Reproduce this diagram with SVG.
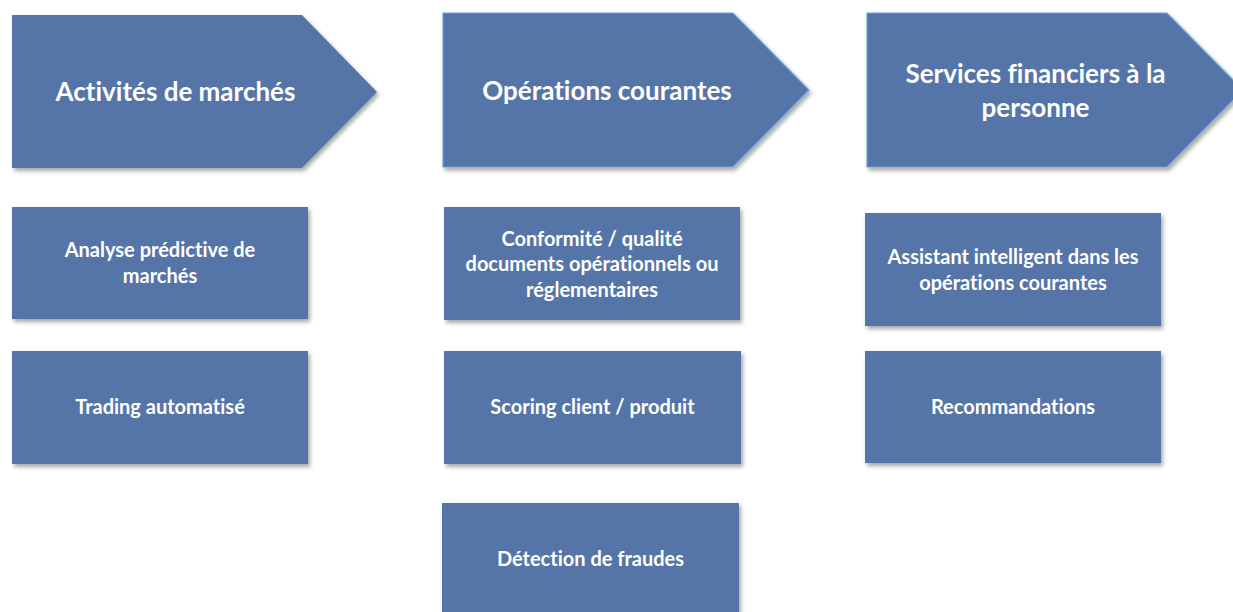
<svg xmlns="http://www.w3.org/2000/svg" width="1233" height="612" viewBox="0 0 1233 612">
<defs>
<filter id="sh" x="-10%" y="-10%" width="125%" height="130%">
<feDropShadow dx="2" dy="3" stdDeviation="2" flood-color="#000" flood-opacity="0.35"/>
</filter>
<style>
.s{fill:#5475A8;filter:url(#sh)}
.b{stroke:#6FA4DC;stroke-width:1.2}
.h,.t{font-family:Lato,"Liberation Sans",sans-serif;font-weight:bold;fill:#fff;text-anchor:middle;font-variant-ligatures:none;font-feature-settings:"liga" 0}
.h{font-size:26px}
.t{font-size:20px}
</style>
</defs>
<rect width="1233" height="612" fill="#fff"/>
<g id="head1"><polygon class="s" points="12,15 302,15 377,92 302,168 12,168"/><text class="h" x="175.5" y="101">Activités de marchés</text></g>
<g id="head2"><polygon class="s b" points="443,13 733,13 809,90 733,167 443,167"/><text class="h" x="607" y="100">Opérations courantes</text></g>
<g id="head3"><polygon class="s b" points="867,13 1167,13 1243,90 1167,167 867,167"/><text class="h" x="1035.5" y="83">Services financiers à la</text><text class="h" x="1035.5" y="117">personne</text></g>
<g id="n1"><rect class="s" x="12" y="207" width="296" height="112"/><text class="t" x="160" y="257">Analyse prédictive de</text><text class="t" x="160" y="283">marchés</text></g>
<g id="n2"><rect class="s" x="12" y="351" width="296" height="113"/><text class="t" x="160" y="414">Trading automatisé</text></g>
<g id="n3"><rect class="s" x="444" y="207" width="296" height="113"/><text class="t" x="592" y="246">Conformité / qualité</text><text class="t" x="592" y="271">documents opérationnels ou</text><text class="t" x="592" y="297">réglementaires</text></g>
<g id="n4"><rect class="s" x="444" y="351" width="297" height="113"/><text class="t" x="592.5" y="414">Scoring client / produit</text></g>
<g id="n5"><rect class="s" x="442" y="503" width="297" height="115"/><text class="t" x="590.5" y="566">Détection de fraudes</text></g>
<g id="n6"><rect class="s" x="865" y="213" width="296" height="113"/><text class="t" x="1013" y="264">Assistant intelligent dans les</text><text class="t" x="1013" y="290">opérations courantes</text></g>
<g id="n7"><rect class="s" x="865" y="351" width="296" height="112"/><text class="t" x="1013" y="414">Recommandations</text></g>
<g id="connectors"/>
</svg>
